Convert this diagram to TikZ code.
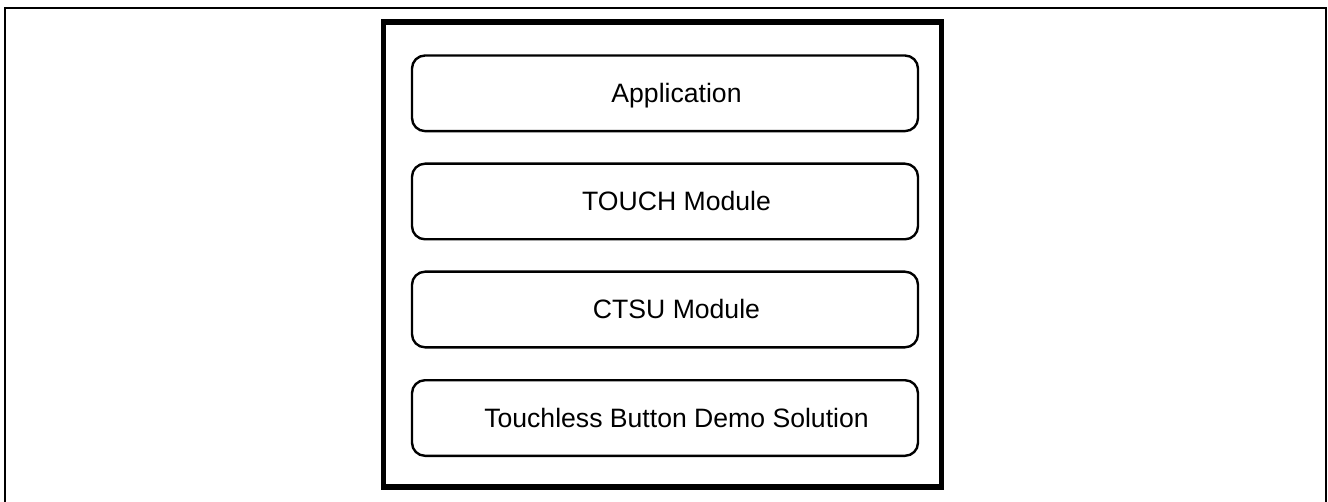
\documentclass[tikz,border=0pt]{standalone}
\usepackage{fontspec}
\setmainfont{Liberation Sans}
\begin{document}
\begin{tikzpicture}[x=0.5pt,y=-0.5pt,
  layerbox/.style={draw=black, line width=1.2pt, rounded corners=6.5pt,
    minimum width=253pt, minimum height=37.8pt, inner sep=0pt,
    font=\fontsize{13.3pt}{15pt}\selectfont, text height=9.5pt, text depth=0pt},
  container/.style={draw=black, line width=2.8pt, minimum width=279pt, minimum height=232.5pt, inner sep=0pt},
  pageframe/.style={draw=black, line width=1pt}]
\useasboundingbox (0,0) rectangle (1328,502);
\draw[pageframe] (5,503) -- (5,7.7) -- (1325.7,7.7) -- (1325.7,503);
\node[container] (stack) at (662.5,254.5) {};
\node[layerbox] (app) at (665,93.3) {\hspace*{11.5pt}Application};
\node[layerbox] (touch) at (665,201.5) {\hspace*{11.5pt}TOUCH Module};
\node[layerbox] (ctsu) at (665,309.5) {\hspace*{11.5pt}CTSU Module};
\node[layerbox] (demo) at (665,418) {\hspace*{11.5pt}Touchless Button Demo Solution};
\end{tikzpicture}
\end{document}
